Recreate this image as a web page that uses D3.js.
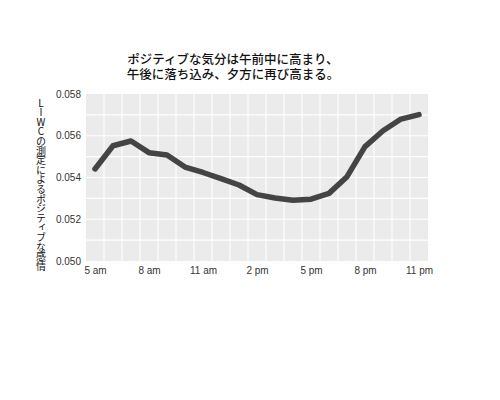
<!DOCTYPE html>
<html>
<head>
<meta charset="utf-8">
<script src="https://cdn.jsdelivr.net/npm/d3@7"></script>
<style>
	body { margin: 0; background: #fff; }
	svg { display: block; }
</style>
</head>
<body>
<div id="chart"></div>
<script>
// hours of the day (24h clock) and the LIWC positive-affect score
const hours = [5, 6, 7, 8, 9, 10, 11, 12, 13, 14, 15, 16, 17, 18, 19, 20, 21, 22, 23];
const positive = [0.05441, 0.05552, 0.05575, 0.05519, 0.05508, 0.05450, 0.05424, 0.05395, 0.05364, 0.05318,
	0.05302, 0.05291, 0.05296, 0.05324, 0.05404, 0.05548, 0.05624, 0.05680, 0.05701];

const xTicks = [5, 8, 11, 14, 17, 20, 23];
const xTickLabels = ['5 am', '8 am', '11 am', '2 pm', '5 pm', '8 pm', '11 pm'];
const yTicks = [0.050, 0.052, 0.054, 0.056, 0.058];
const titleLines = ['ポジティブな気分は午前中に高まり、', '午後に落ち込み、夕方に再び高まる。'];
const yLabel = 'LIWCの測定によるポジティブな感情';

const width = 500, height = 400;
const panel = { left: 86, right: 428, top: 94, bottom: 261 };

const svg = d3.select('#chart').append('svg')
	.attr('width', width)
	.attr('height', height);

svg.append('rect').attr('width', width).attr('height', height).attr('fill', '#fff');

const x = d3.scaleLinear()
	.domain([4.5, 23.5])
	.range([panel.left, panel.right]);
const y = d3.scaleLinear()
	.domain([0.050, 0.058])
	.range([panel.bottom, panel.top]);

svg.append('rect')
	.attr('x', panel.left)
	.attr('y', panel.top)
	.attr('width', panel.right - panel.left)
	.attr('height', panel.bottom - panel.top)
	.attr('fill', '#ebebeb');

// grid: one line per hour boundary, one per 0.001
const grid = svg.append('g').attr('stroke', '#fff').attr('stroke-width', 1.1);
grid.selectAll('.vg')
	.data(d3.range(5.5, 23, 1))
	.join('line')
	.attr('x1', d => x(d)).attr('x2', d => x(d))
	.attr('y1', panel.top).attr('y2', panel.bottom);
grid.selectAll('.hg')
	.data(d3.range(0.051, 0.0575, 0.001))
	.join('line')
	.attr('x1', panel.left).attr('x2', panel.right)
	.attr('y1', d => y(d)).attr('y2', d => y(d));

const line = d3.line()
	.x((d, i) => x(hours[i]))
	.y(d => y(d));

svg.append('path')
	.datum(positive)
	.attr('d', line)
	.attr('fill', 'none')
	.attr('stroke', '#444')
	.attr('stroke-width', 5.5)
	.attr('stroke-linejoin', 'round')
	.attr('stroke-linecap', 'round');

const yAxis = svg.append('g')
	.attr('transform', `translate(${panel.left},0)`)
	.call(d3.axisLeft(y).tickValues(yTicks).tickFormat(d3.format('.3f')).tickSize(0).tickPadding(5));
const xAxis = svg.append('g')
	.attr('transform', `translate(0,${panel.bottom})`)
	.call(d3.axisBottom(x).tickValues(xTicks).tickFormat((d, i) => xTickLabels[i]).tickSize(0).tickPadding(6));

[yAxis, xAxis].forEach(a => {
	a.select('.domain').remove();
	a.selectAll('text')
		.attr('fill', '#333')
		.style('font-family', '"Liberation Sans", Arial, sans-serif')
		.style('font-size', '10px');
});

// vertical axis title: one text, each glyph upright on its own step
const step = 9.6;
svg.append('text')
	.attr('text-anchor', 'middle')
	.attr('dominant-baseline', 'central')
	.style('font-family', '"Noto Sans CJK JP", sans-serif')
	.style('font-size', '10px')
	.style('font-feature-settings', '"vert"')
	.attr('fill', '#111')
	.selectAll('tspan')
	.data(Array.from(yLabel))
	.join('tspan')
	.attr('x', 41)
	.attr('y', (d, i) => 101.5 + i * step)
	.text(d => d);

svg.append('text')
	.attr('text-anchor', 'middle')
	.style('font-family', '"Noto Sans CJK JP", sans-serif')
	.style('font-size', '12.5px')
	.style('font-weight', 500)
	.attr('fill', '#111')
	.selectAll('tspan')
	.data(titleLines)
	.join('tspan')
	.attr('x', 233)
	.attr('y', (d, i) => 64 + i * 15)
	.text(d => d);
</script>
</body>
</html>
